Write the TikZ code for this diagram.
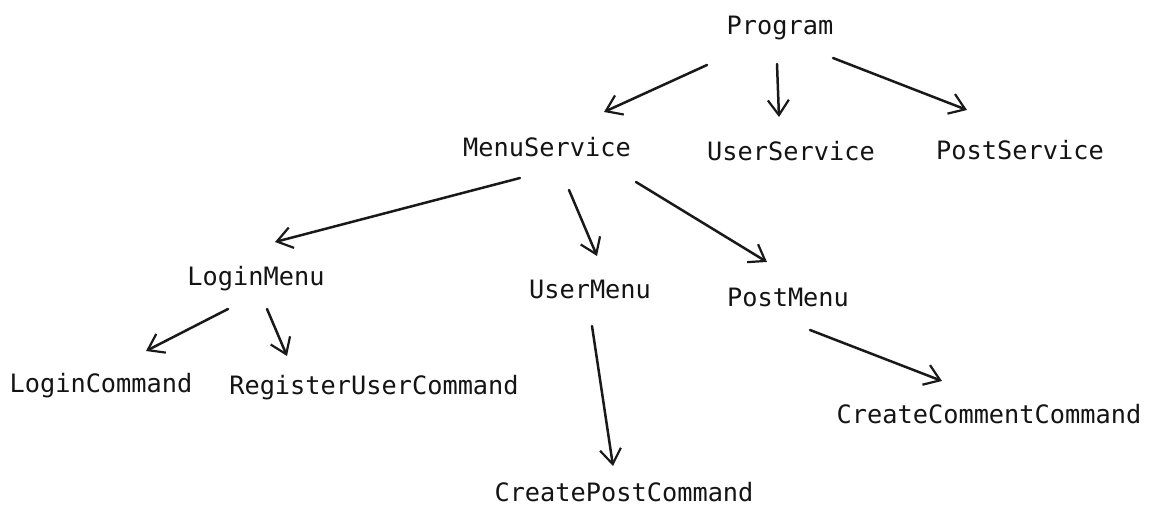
\documentclass[tikz,border=0pt]{standalone}
\usepackage{fontspec}
\setmonofont{DejaVu Sans Mono}
\usetikzlibrary{arrows.meta}
\begin{document}
\begin{tikzpicture}[x=1pt,y=-1pt,
  lbl/.style={anchor=base,inner sep=0pt,font=\ttfamily\fontsize{25.3}{30}\selectfont,text=black!92},
  arr/.style={line width=2.5pt,draw=black!90,line cap=round,-{Straight Barb[length=15pt,width=21pt,line width=2.2pt]}}]
\useasboundingbox (0,0) rectangle (1152,521);
\node[lbl] (prog) at (780,35) {Program};
\node[lbl] (ms) at (547,157) {MenuService};
\node[lbl] (us) at (791,161) {UserService};
\node[lbl] (ps) at (1020,160) {PostService};
\node[lbl] (lm) at (256,286) {LoginMenu};
\node[lbl] (um) at (590,299) {UserMenu};
\node[lbl] (pm) at (788,307) {PostMenu};
\node[lbl] (lc) at (101,393) {LoginCommand};
\node[lbl] (ru) at (374,395) {RegisterUserCommand};
\node[lbl] (cp) at (624,501) {CreatePostCommand};
\node[lbl] (cc) at (989,424) {CreateCommentCommand};
\draw[arr] ([shift={(-73,30)}]prog.base) -- ([shift={(57,-45)}]ms.base);
\draw[arr] ([shift={(-3,29)}]prog.base) -- ([shift={(-12,-44)}]us.base);
\draw[arr] ([shift={(53,23)}]prog.base) -- ([shift={(-53,-50)}]ps.base);
\draw[arr] ([shift={(-27,21)}]ms.base) -- ([shift={(19,-44)}]lm.base);
\draw[arr] ([shift={(22,33)}]ms.base) -- ([shift={(7,-43)}]um.base);
\draw[arr] ([shift={(89,25)}]ms.base) -- ([shift={(-21,-45)}]pm.base);
\draw[arr] ([shift={(-28,23)}]lm.base) -- ([shift={(45,-42)}]lc.base);
\draw[arr] ([shift={(11,23)}]lm.base) -- ([shift={(-87,-39)}]ru.base);
\draw[arr] ([shift={(2,27)}]um.base) -- ([shift={(-11,-35)}]cp.base);
\draw[arr] ([shift={(22,23)}]pm.base) -- ([shift={(-47,-43)}]cc.base);
\end{tikzpicture}
\end{document}
